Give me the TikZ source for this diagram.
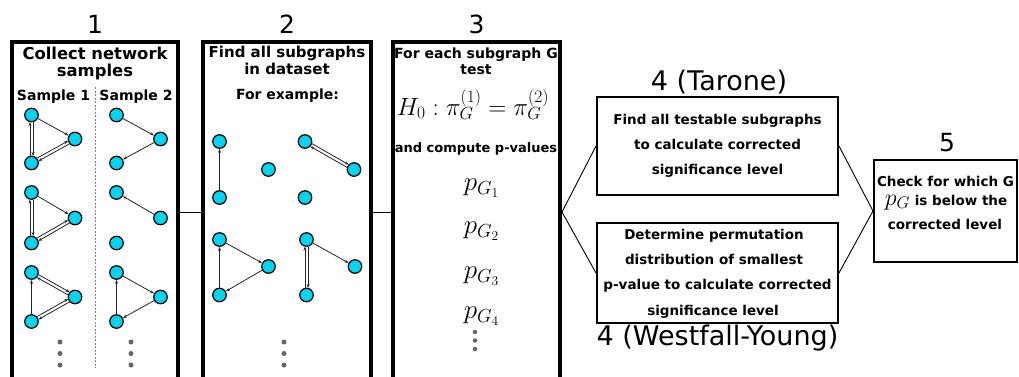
\RequirePackage{fix-cm}
\documentclass[tikz,border=0pt]{standalone}
\usepackage{fontspec}
\setmainfont{DejaVu Sans}
\usetikzlibrary{arrows.meta,calc}
\definecolor{nodecyan}{RGB}{0,212,240}
\definecolor{dotgray}{RGB}{100,100,100}
\newcommand\dedge[2]{%
  \draw[arr] ($(#1)!7pt!(#2)!1.6pt!90:(#2)$) -- ($(#2)!7pt!(#1)!1.6pt!-90:(#1)$);
  \draw[arr] ($(#2)!7pt!(#1)!1.6pt!90:(#1)$) -- ($(#1)!7pt!(#2)!1.6pt!-90:(#2)$);
}
\tikzset{
  v/.style={circle,draw=black,fill=nodecyan,line width=1.2pt,minimum size=13.5pt,inner sep=0pt},
  arr/.style={-{Stealth[length=4pt,width=3pt]},line width=0.8pt,draw=black!85},
  dotn/.style={circle,fill=dotgray,minimum size=5pt,inner sep=0pt},
  bigbox/.style={draw,line width=4pt,minimum height=340pt,inner sep=0pt},
  smallbox/.style={draw,line width=2pt,inner sep=0pt},
  title/.style={inner sep=0pt,anchor=base,font=\fontsize{25}{30}\selectfont},
  titleb/.style={inner sep=0pt,anchor=base,font=\fontsize{27}{30}\selectfont},
  hd/.style={inner sep=0pt,anchor=base,font=\bfseries\fontsize{15}{18}\selectfont},
  sub/.style={inner sep=0pt,anchor=base,font=\bfseries\fontsize{14}{17}\selectfont},
  small/.style={inner sep=0pt,anchor=base,font=\bfseries\fontsize{13}{16}\selectfont},
  mid/.style={inner sep=0pt,anchor=base,font=\bfseries\fontsize{13.5}{16}\selectfont},
  pv/.style={inner sep=0pt,font=\fontsize{27}{30}\selectfont},
  conn/.style={line width=0.9pt,draw=black}
}
\begin{document}
\begin{tikzpicture}[x=1pt,y=-1pt]
\useasboundingbox (0,0) rectangle (1019,376);
% boxes
\node[bigbox,minimum width=166pt] (b1) at (95,212) {};
\node[bigbox,minimum width=168pt] (b2) at (287,212) {};
\node[bigbox,minimum width=167pt] (b3) at (476.5,212) {};
\node[smallbox,minimum width=241pt,minimum height=98pt] (t) at (717.5,146) {};
\node[smallbox,minimum width=241pt,minimum height=100pt] (w) at (717.5,273) {};
\node[smallbox,minimum width=143pt,minimum height=102pt] (b5) at (945.5,211) {};
% connectors
\draw[conn] (b1.east) -- (b2.west);
\draw[conn] (b2.east) -- (b3.west);
\draw[conn] (b3.east) -- (t.west);
\draw[conn] (b3.east) -- (w.west);
\draw[conn] (t.east) -- (b5.west);
\draw[conn] (w.east) -- (b5.west);
% titles
\node[title] (l1) at (95,33) {1};
\node[title] (l2) at (287,33) {2};
\node[title] (l3) at (476.5,33) {3};
\node[titleb] (l4) at (719,90) {4 (Tarone)};
\node[titleb] (l4b) at (717.5,345.5) {4 (Westfall-Young)};
\node[title] (l5) at (947,151.5) {5};
% box 1 text
\node[hd,font=\bfseries\fontsize{16.4}{18}\selectfont] (h1a) at (95,59.5) {Collect network};
\node[hd,font=\bfseries\fontsize{16.4}{18}\selectfont] (h1b) at (95,76) {samples};
\node[sub] (s1) at (53.5,100) {Sample 1};
\node[sub] (s2) at (136,100) {Sample 2};
\coordinate (sepT) at (95,87);
\coordinate (sepB) at (95,368);
\draw[dotgray!80,line width=0.6pt,dash pattern=on 2pt off 1.5pt] (sepT) -- (sepB);
% sample 1 graphs
\node[v] (a1) at (31.5,115) {};
\node[v] (a2) at (75,139) {};
\node[v] (a3) at (31.5,163) {};
\draw[arr] (a1) -- (a2);
\dedge{a1}{a3}
\dedge{a3}{a2}
\node[v] (c1) at (31.5,192.5) {};
\node[v] (c2) at (75,218) {};
\node[v] (c3) at (31.5,243) {};
\draw[arr] (c1) -- (c2);
\dedge{c1}{c3}
\dedge{c3}{c2}
\node[v] (e1) at (31.5,272.5) {};
\node[v] (e2) at (75,297) {};
\node[v] (e3) at (31.5,321.5) {};
\draw[arr] (e3) -- (e1);
\dedge{e1}{e2}
\dedge{e3}{e2}
% sample 2 graphs
\node[v] (f1) at (116.5,115) {};
\node[v] (f2) at (160.5,139) {};
\node[v] (f3) at (116.5,163) {};
\draw[arr] (f1) -- (f2);
\draw[arr] (f2) -- (f3);
\node[v] (g1) at (116.5,192.5) {};
\node[v] (g2) at (160.5,218) {};
\node[v] (g3) at (116.5,243) {};
\draw[arr] (g2) -- (g1);
\node[v] (k1) at (116.5,272.5) {};
\node[v] (k2) at (160.5,297) {};
\node[v] (k3) at (116.5,321.5) {};
\draw[arr] (k1) -- (k2);
\draw[arr] (k2) -- (k3);
\draw[arr] (k3) -- (k1);
\node[dotn] (d1) at (60,342) {};
\node[dotn] (d2) at (60,353.5) {};
\node[dotn] (d3) at (60,365) {};
\node[dotn] (d4) at (131,342) {};
\node[dotn] (d5) at (131,353.5) {};
\node[dotn] (d6) at (131,365) {};
% box 2
\node[hd] (h2a) at (287,57.5) {Find all subgraphs};
\node[hd] (h2b) at (287,74.5) {in dataset};
\node[sub] (h2c) at (287.5,99.5) {For example:};
\node[v] (m1) at (219.5,141.5) {};
\node[v] (m2) at (219.5,197.5) {};
\draw[arr] (m2) -- (m1);
\node[v] (m3) at (268.5,169.5) {};
\node[v] (n1) at (305,141.5) {};
\node[v] (n2) at (354,169.5) {};
\dedge{n1}{n2}
\node[v] (n3) at (305,197.5) {};
\node[v] (p1) at (219.5,239.5) {};
\node[v] (p2) at (268.5,266.5) {};
\node[v] (p3) at (219.5,295) {};
\draw[arr] (p1) -- (p2);
\draw[arr] (p2) -- (p3);
\draw[arr] (p3) -- (p1);
\node[v] (q1) at (306.5,239.5) {};
\node[v] (q2) at (355,266.5) {};
\node[v] (q3) at (306.5,295) {};
\draw[arr] (q1) -- (q2);
\dedge{q1}{q3}
\node[dotn] (d7) at (284,342) {};
\node[dotn] (d8) at (284,353.5) {};
\node[dotn] (d9) at (284,365) {};
% box 3
\node[sub] (h3a) at (476,58.5) {For each subgraph G};
\node[sub] (h3b) at (476,74) {test};
\node[inner sep=0pt,anchor=base,font=\fontsize{25}{28}\selectfont] (h0) at (473,115) {$H_0:\pi_G^{(1)}=\pi_G^{(2)}$};
\node[small] (h3c) at (476,152) {and compute p-values};
\node[pv] (pg1) at (481.5,188) {$p_{G_1}$};
\node[pv] (pg2) at (481.5,231) {$p_{G_2}$};
\node[pv] (pg3) at (481.5,276) {$p_{G_3}$};
\node[pv] (pg4) at (481.5,316) {$p_{G_4}$};
\node[dotn,minimum size=4.5pt] (d10) at (475,332) {};
\node[dotn,minimum size=4.5pt] (d11) at (475,340.5) {};
\node[dotn,minimum size=4.5pt] (d12) at (475,349) {};
% box 4 texts
\node[mid] (t1) at (717.5,124) {Find all testable subgraphs};
\node[mid] (t2) at (717.5,149) {to calculate corrected};
\node[mid] (t3) at (717.5,174) {significance level};
\node[mid] (w1) at (714,239.5) {Determine permutation};
\node[mid] (w2) at (714,264.5) {distribution of smallest};
\node[mid] (w3) at (717.5,289.5) {p-value to calculate corrected};
\node[mid] (w4) at (713,315) {significance level};
% box 5 texts
\node[mid] (r1) at (945.5,186) {Check for which G};
\node[mid] (r2) at (946,205) {{\fontsize{24}{24}\selectfont$\smash{p_G}$} is below the};
\node[mid] (r3) at (945,229) {corrected level};
\end{tikzpicture}
\end{document}
